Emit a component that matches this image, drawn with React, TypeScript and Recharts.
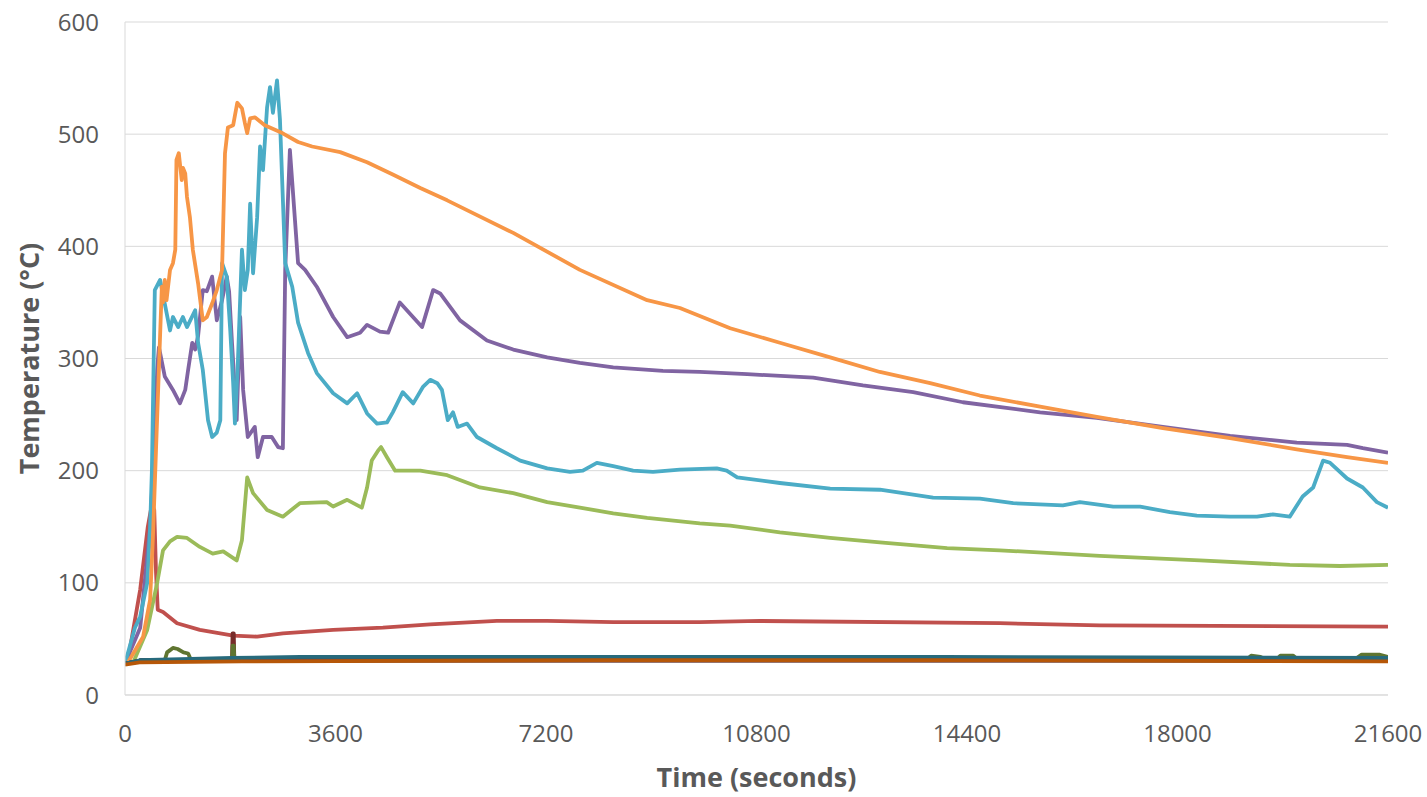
import React from 'react';
import { LineChart, Line, XAxis, YAxis, CartesianGrid, Label } from 'recharts';

const xTicks = [0, 3600, 7200, 10800, 14400, 18000, 21600];
const yTicks = [0, 100, 200, 300, 400, 500, 600];

// [time (s), temperature (°C)]
const redSeries: [number, number][] = [
  [0, 27], [50, 31], [260, 94], [390, 150], [460, 170], [500, 165], [530, 110], [560, 76],
  [650, 74], [890, 64], [1280, 58], [1850, 53], [2260, 52], [2700, 55], [3560, 58], [4410, 60],
  [5220, 63], [6360, 66], [7220, 66], [8350, 65], [9830, 65], [10860, 66], [14960, 64],
  [16670, 62], [21600, 61],
];

const greenSeries: [number, number][] = [
  [0, 28], [140, 29], [380, 58], [550, 100], [650, 129], [770, 137], [890, 141], [1060, 140],
  [1280, 132], [1500, 126], [1680, 128], [1910, 120], [2000, 138], [2090, 194], [2190, 180],
  [2430, 165], [2700, 159], [2990, 171], [3450, 172], [3560, 168], [3800, 174], [4050, 167],
  [4140, 185], [4220, 209], [4330, 218], [4380, 221], [4480, 212], [4620, 200], [5050, 200],
  [5510, 196], [6070, 185], [6640, 180], [7220, 172], [7780, 167], [8350, 162], [8930, 158],
  [9830, 153], [10350, 151], [11200, 145], [12060, 140], [12910, 136], [14060, 131],
  [14960, 129], [16670, 124], [18380, 120], [19920, 116], [20780, 115], [21600, 116],
];

const purpleSeries: [number, number][] = [
  [0, 28], [260, 60], [430, 150], [510, 230], [550, 290], [580, 310], [600, 305], [680, 284],
  [820, 272], [940, 260], [1030, 272], [1080, 290], [1150, 314], [1200, 308], [1250, 320],
  [1330, 361], [1400, 360], [1490, 373], [1570, 334], [1660, 352], [1740, 373], [1780, 360],
  [1830, 314], [1910, 245], [1970, 337], [2020, 272], [2100, 230], [2220, 239], [2270, 212],
  [2360, 230], [2510, 230], [2620, 221], [2700, 220], [2740, 379], [2820, 486], [2870, 450],
  [2960, 385], [3080, 379], [3280, 364], [3560, 337], [3800, 319], [4020, 323], [4140, 330],
  [4360, 324], [4500, 323], [4700, 350], [5080, 328], [5270, 361], [5390, 358], [5730, 334],
  [6190, 316], [6640, 308], [7220, 301], [7780, 296], [8350, 292], [9200, 289], [9830, 288],
  [10640, 286], [11770, 283], [12620, 276], [13480, 270], [14330, 261], [15650, 252],
  [16620, 247], [17750, 239], [18900, 231], [20040, 225], [20900, 223], [21170, 220],
  [21600, 216],
];

const aquaSeries: [number, number][] = [
  [0, 28], [170, 60], [260, 70], [380, 100], [430, 150], [460, 200], [510, 361], [600, 370],
  [680, 349], [770, 325], [820, 337], [910, 328], [990, 337], [1060, 328], [1200, 343],
  [1250, 314], [1330, 290], [1420, 245], [1490, 230], [1570, 234], [1630, 245], [1660, 385],
  [1740, 373], [1800, 325], [1850, 278], [1880, 242], [1930, 296], [2000, 397], [2050, 361],
  [2100, 379], [2140, 438], [2190, 376], [2260, 426], [2310, 489], [2360, 468], [2430, 524],
  [2480, 542], [2530, 519], [2600, 548], [2650, 513], [2740, 385], [2860, 364], [2960, 332],
  [3130, 305], [3280, 287], [3560, 269], [3800, 260], [3970, 269], [4140, 251], [4310, 242],
  [4480, 243], [4580, 252], [4750, 270], [4930, 260], [5100, 275], [5220, 281], [5340, 278],
  [5420, 272], [5520, 245], [5610, 252], [5690, 239], [5850, 242], [6020, 230], [6360, 220],
  [6760, 209], [7220, 202], [7610, 199], [7830, 200], [8070, 207], [8350, 204], [8690, 200],
  [9030, 199], [9490, 201], [10120, 202], [10290, 200], [10470, 194], [11200, 189],
  [12060, 184], [12910, 183], [13820, 176], [14620, 175], [15190, 171], [16040, 169],
  [16330, 172], [16900, 168], [17360, 168], [17870, 163], [18330, 160], [18900, 159],
  [19360, 159], [19630, 161], [19920, 159], [20140, 177], [20320, 185], [20490, 209],
  [20610, 207], [20900, 193], [21170, 185], [21410, 172], [21600, 167],
];

const orangeSeries: [number, number][] = [
  [0, 28], [50, 29], [310, 52], [430, 85], [480, 144], [530, 218], [630, 364], [650, 350],
  [680, 370], [710, 352], [770, 379], [820, 385], [860, 397], [880, 477], [920, 483],
  [970, 459], [990, 470], [1030, 465], [1060, 444], [1110, 426], [1160, 397], [1250, 367],
  [1330, 334], [1400, 337], [1490, 349], [1570, 361], [1660, 379], [1710, 483], [1760, 506],
  [1850, 508], [1920, 528], [2000, 523], [2050, 510], [2090, 501], [2140, 514], [2220, 515],
  [2390, 508], [2690, 501], [2960, 493], [3200, 489], [3680, 484], [4140, 475], [4580, 464],
  [5050, 452], [5510, 441], [6640, 412], [7780, 379], [8930, 352], [9490, 345], [10350, 327],
  [11200, 314], [12060, 301], [12910, 288], [13770, 278], [14620, 267], [15650, 257],
  [16620, 248], [17750, 238], [18900, 229], [20040, 219], [20900, 212], [21600, 207],
];

const blueSeries: [number, number][] = [[0, 28], [300, 31], [21600, 31]];
const darkBlueSeries: [number, number][] = [[0, 28], [300, 31], [21600, 31]];
const darkRedSeries: [number, number][] = [
  [0, 28], [300, 31], [1830, 31], [1840, 55], [1860, 55], [1870, 31], [21600, 31],
];
const darkGreenSeries: [number, number][] = [
  [0, 28], [300, 31], [680, 31], [720, 38], [820, 42], [900, 41], [1000, 38], [1080, 37],
  [1130, 31], [1830, 31], [1840, 44], [1860, 44], [1870, 32], [19190, 32], [19260, 35],
  [19420, 34], [19500, 32], [19700, 32], [19760, 35], [19980, 35], [20050, 32], [21040, 32],
  [21150, 36], [21450, 36], [21600, 34],
];
const darkPurpleSeries: [number, number][] = [[0, 28], [300, 31], [21600, 31]];
const darkAquaSeries: [number, number][] = [
  [0, 28], [250, 31], [1830, 33], [3000, 34], [8000, 34], [14000, 34], [21600, 33],
];
const darkOrangeSeries: [number, number][] = [
  [0, 27], [250, 29], [2000, 30], [8000, 31], [14000, 31], [21600, 30],
];

const toPoints = (s: [number, number][]) => s.map(([t, v]) => ({ t, v }));

const series = [
  { name: 'blue', color: '#4F81BD', data: blueSeries },
  { name: 'red', color: '#C0504D', data: redSeries },
  { name: 'green', color: '#9BBB59', data: greenSeries },
  { name: 'purple', color: '#8064A2', data: purpleSeries },
  { name: 'aqua', color: '#4BACC6', data: aquaSeries },
  { name: 'orange', color: '#F79646', data: orangeSeries },
  { name: 'darkBlue', color: '#2C4D75', data: darkBlueSeries },
  { name: 'darkRed', color: '#772C2A', data: darkRedSeries },
  { name: 'darkGreen', color: '#5F7530', data: darkGreenSeries },
  { name: 'darkPurple', color: '#4D3B62', data: darkPurpleSeries },
  { name: 'darkAqua', color: '#276A7C', data: darkAquaSeries },
  { name: 'darkOrange', color: '#B65708', data: darkOrangeSeries },
];

const FONT = "'Open Sans', 'DejaVu Sans', sans-serif";
const TEXT = '#595959';

const YTitle = (props: any) => {
  const vb = props.viewBox || { x: 0, y: 22, width: 125, height: 673 };
  const cx = vb.x + 28;
  const cy = vb.y + vb.height / 2;
  return (
    <text
      x={cx}
      y={cy}
      transform={`rotate(-90, ${cx}, ${cy})`}
      textAnchor="middle"
      dominantBaseline="central"
      fill={TEXT}
      fontFamily={FONT}
      fontWeight="bold"
      fontSize={27}
    >
      Temperature (°C)
    </text>
  );
};

export default function App() {
  return (
    <div>
      <style>{`html,body{margin:0;padding:0;overflow:hidden;background:#fff;}`}</style>
      <LineChart width={1427} height={797} margin={{ top: 22, right: 39, bottom: 0, left: 0 }}>
        <CartesianGrid vertical={false} stroke="#D9D9D9" strokeWidth={1} />
        <XAxis
          type="number"
          dataKey="t"
          domain={[0, 21600]}
          ticks={xTicks}
          allowDataOverflow
          height={102}
          tickLine={false}
          tickSize={0}
          tickMargin={30}
          axisLine={{ stroke: '#D9D9D9' }}
          tick={{ fill: TEXT, fontSize: 24, fontFamily: FONT }}
        >
          <Label
            value="Time (seconds)"
            position="insideBottom"
            offset={10}
            style={{ fill: TEXT, fontSize: 27, fontWeight: 'bold', fontFamily: FONT }}
          />
        </XAxis>
        <YAxis
          type="number"
          domain={[0, 600]}
          ticks={yTicks}
          width={125}
          tickLine={false}
          tickSize={0}
          tickMargin={26}
          axisLine={{ stroke: '#D9D9D9' }}
          tick={{ fill: TEXT, fontSize: 24, fontFamily: FONT }}
          label={<YTitle />}
        />
        {series.map((s) => (
          <Line
            key={s.name}
            data={toPoints(s.data)}
            dataKey="v"
            type="linear"
            stroke={s.color}
            strokeWidth={3.8}
            dot={false}
            activeDot={false}
            isAnimationActive={false}
            strokeLinejoin="round"
          />
        ))}
      </LineChart>
    </div>
  );
}
